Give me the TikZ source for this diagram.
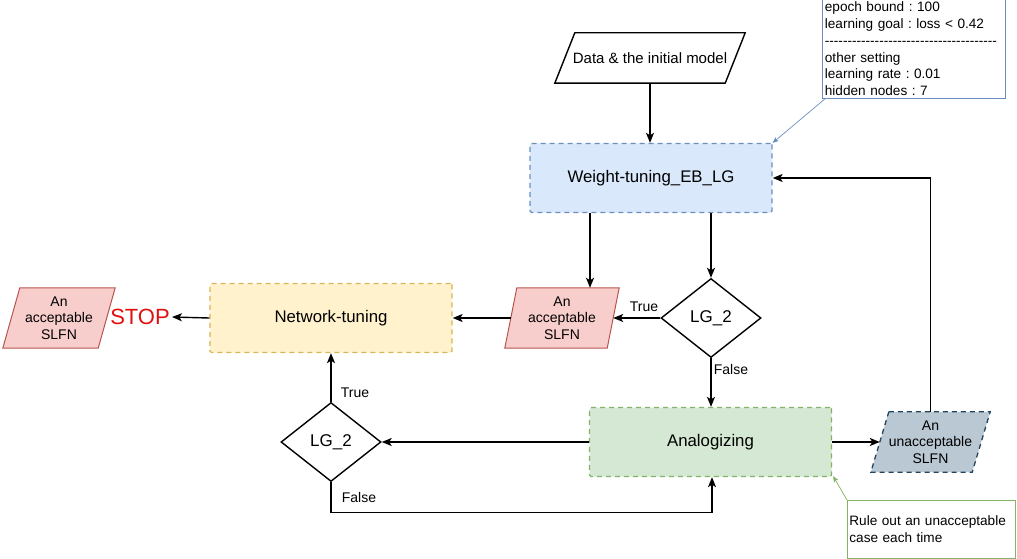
\documentclass[tikz,border=0pt]{standalone}
\usepackage{fontspec}
\setmainfont{Liberation Sans}
\newfontfamily\plainsans{Liberation Sans}
\usetikzlibrary{shapes.geometric,arrows.meta,backgrounds}
\definecolor{bluefill}{HTML}{DAE8FC}
\definecolor{bluedraw}{HTML}{6C8EBF}
\definecolor{yelfill}{HTML}{FFF2CC}
\definecolor{yeldraw}{HTML}{D6B656}
\definecolor{grnfill}{HTML}{D5E8D4}
\definecolor{grndraw}{HTML}{82B366}
\definecolor{redfill}{HTML}{F8CECC}
\definecolor{reddraw}{HTML}{B85450}
\definecolor{grayfill}{HTML}{BAC8D3}
\definecolor{graydraw}{HTML}{23445D}
\definecolor{stopred}{HTML}{E01010}
\frenchspacing
\tikzset{
  big/.style={font=\fontsize{16.8}{20}\selectfont},
  small/.style={font=\fontsize{14}{16.5}\selectfont},
  procbox/.style={big, minimum width=242pt, minimum height=69pt, inner sep=0pt, line width=1.3pt, dash pattern=on 5pt off 4pt, rounded corners=1.5pt},
  decision/.style={diamond, draw, line width=1.4pt, inner sep=0pt, minimum width=100pt, minimum height=79pt, aspect=1.27, font=\fontsize{17}{20}\selectfont},
  paracell/.style={small, align=center, inner sep=0pt},
  arr/.style={line width=1.4pt, -{Stealth[length=10pt,width=8pt,inset=2.5pt]}},
  thinarr/.style={line width=0.7pt, -{Stealth[length=6pt,width=5pt,inset=1.5pt]}},
  lbl/.style={small, inner sep=0pt},
  notebox/.style={draw, line width=0.8pt, align=left, inner sep=0pt, font=\fontsize{13.6}{16.8}\selectfont}
}
\newcommand\paradraw[3]{% name, slant, style options
  \begin{scope}[on background layer]
    \draw[#3] ([xshift=#2pt]#1.north west) -- (#1.north east) -- ([xshift=-#2pt]#1.south east) -- (#1.south west) -- cycle;
  \end{scope}}
\begin{document}
\begin{tikzpicture}[x=1pt,y=-1pt]
\useasboundingbox (0,0) rectangle (1017,559);

% input
\node[paracell, minimum width=190pt, minimum height=50pt, font=\fontsize{15}{18}\selectfont] (data) at (650,58) {Data \& the initial model};
\paradraw{data}{20}{line width=1.4pt, fill=white}

% process boxes
\node[procbox, draw=bluedraw, fill=bluefill] (wt) at (651,178) {Weight-tuning\_EB\_LG};
\node[procbox, draw=yeldraw, fill=yelfill] (net) at (331,318) {Network-tuning};
\node[procbox, draw=grndraw, fill=grnfill] (ana) at (710.5,442) {Analogizing};

% decisions
\node[decision] (lg1) at (711,318) {LG\_2};
\node[decision] (lg2) at (331,442) {LG\_2};

% parallelograms
\node[paracell, minimum width=114pt, minimum height=60pt] (mid) at (562,318) {An\\acceptable\\SLFN};
\paradraw{mid}{12}{line width=1pt, draw=reddraw, fill=redfill}
\node[paracell, minimum width=112pt, minimum height=60pt] (left) at (59,318) {An\\acceptable\\SLFN};
\paradraw{left}{17}{line width=1pt, draw=reddraw, fill=redfill}
\node[paracell, minimum width=119pt, minimum height=60pt] (unacc) at (930.5,442) {An\\unacceptable\\SLFN};
\paradraw{unacc}{18}{line width=1.3pt, draw=graydraw, fill=grayfill, dash pattern=on 5pt off 4pt}

% STOP
\node[font=\fontsize{22}{24}\selectfont, text=stopred, inner sep=0pt] (stop) at (140,317) {STOP};

% notes
\node[notebox, draw=bluedraw, anchor=north west, minimum width=183pt, minimum height=99pt, text width=178pt] (note1) at (822,-1)
  {epoch bound : 100\\learning goal : loss < 0.42\\\mbox{\plainsans --------------------------------------}\\other setting\\learning rate : 0.01\\hidden nodes : 7};
\node[notebox, draw=grndraw, anchor=north west, minimum width=168pt, minimum height=58pt, text width=164pt] (note2) at (847,500)
  {Rule out an unacceptable\\case each time};

% connectors
\draw[arr] (data.south) -- (data.south |- wt.north);
\draw[arr] ([xshift=-61pt]wt.south) -- ([xshift=-61pt]wt.south |- mid.north);
\draw[arr] (wt.south -| lg1.north) -- (lg1.north);
\draw[arr] (lg1.west) -- ([xshift=-6pt]mid.east);
\draw[arr] (lg1.south) -- (lg1.south |- ana.north);
\draw[arr] ([xshift=6pt]mid.west) -- (net.east);
\draw[arr] (net.west) -- ([xshift=2pt]stop.east);
\draw[arr] (ana.east) -- ([xshift=9pt]unacc.west);
\draw[arr] (unacc.north) |- (wt.east);
\draw[arr] (ana.west) -- (lg2.east);
\draw[arr] (lg2.north) -- (net.south);
\draw[arr] (lg2.south) -- ++(0,30) -| ([xshift=1.5pt]ana.south);

% labels
\node[lbl] (t1) at (644,307) {True};
\node[lbl] (f1) at (731,369) {False};
\node[lbl] (t2) at (355,393) {True};
\node[lbl] (f2) at (359,497) {False};

% note connectors
\draw[thinarr, draw=bluedraw] ([xshift=3pt]note1.south west) -- (wt.north east);
\draw[thinarr, draw=grndraw] (note2.north west) -- ([shift={(1pt,1pt)}]ana.south east);
\end{tikzpicture}
\end{document}
